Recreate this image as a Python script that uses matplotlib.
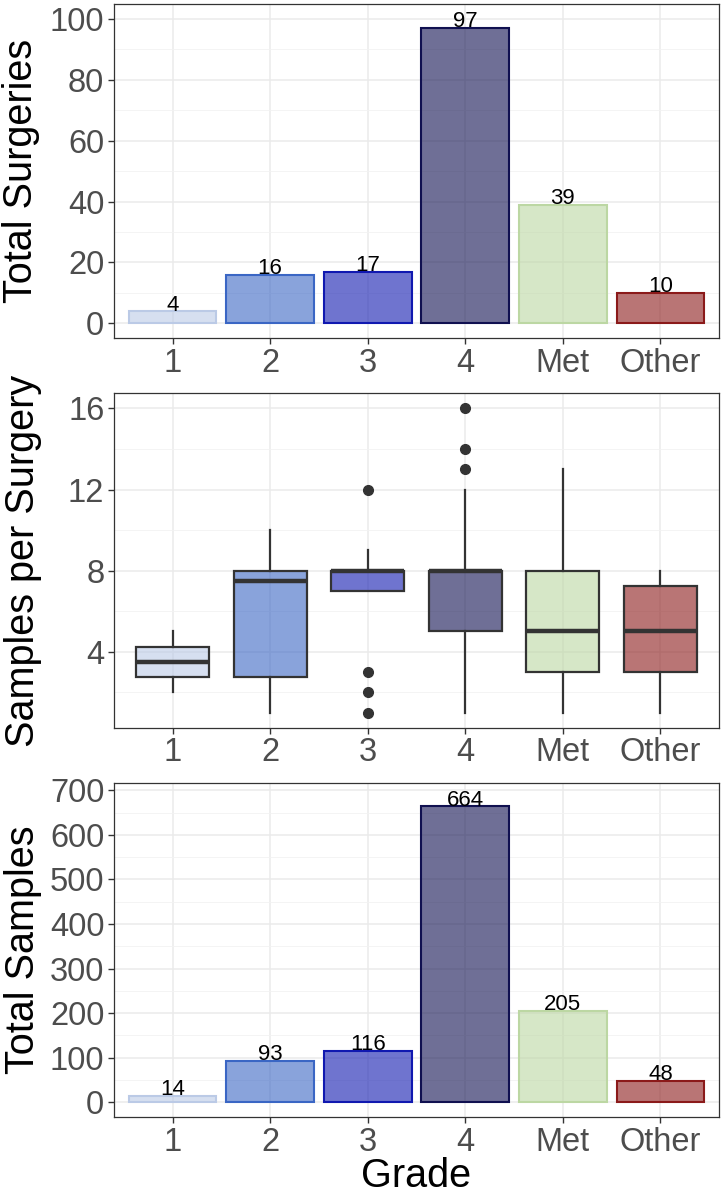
import matplotlib
matplotlib.use("Agg")
import matplotlib.pyplot as plt
from matplotlib.ticker import MultipleLocator

plt.rcParams['font.family'] = ['Liberation Sans', 'DejaVu Sans']

# ---------------- data ----------------
grades = ["1", "2", "3", "4", "Met", "Other"]
total_surgeries = [4, 16, 17, 97, 39, 10]
total_samples = [14, 93, 116, 664, 205, 48]

# boxplot stats (samples per surgery)
box_whislo = [2, 1, 7, 1, 1, 1]
box_q1 = [2.75, 2.75, 7, 5, 3, 3]
box_med = [3.5, 7.5, 8, 8, 5, 5]
box_q3 = [4.25, 8, 8, 8, 8, 7.25]
box_whishi = [5, 10, 9, 12, 13, 8]
box_fliers = [[], [], [12, 3, 2, 1], [13, 14, 16], [], []]

base_colors = ["#bbcae6", "#3a66c4", "#1018b0", "#101050", "#bcd7a3", "#8b1a1a"]
ALPHA = 0.6

W, H = 724, 1199
fig = plt.figure(figsize=(W / 100, H / 100), dpi=100)

def ax_rect(left, top, right, bottom):
    return [left / W, 1 - bottom / H, (right - left) / W, (bottom - top) / H]

ax1 = fig.add_axes(ax_rect(114, 4, 719, 338))
ax2 = fig.add_axes(ax_rect(114, 393.3, 719, 727.7))
ax3 = fig.add_axes(ax_rect(114, 782.7, 719, 1117.3))

pos = list(range(1, len(grades) + 1))

def style(ax, ylim, major, minor):
    ax.set_xlim(0.4, 6.6)
    ax.set_ylim(*ylim)
    ax.set_axisbelow(True)
    ax.yaxis.set_major_locator(MultipleLocator(major))
    ax.yaxis.set_minor_locator(MultipleLocator(minor))
    ax.set_xticks(pos)
    ax.set_xticklabels(grades)
    ax.grid(which='major', color='#ebebeb', linewidth=1.1)
    ax.grid(which='minor', axis='y', color='#f2f2f2', linewidth=0.6)
    for s in ax.spines.values():
        s.set_color('#333333')
        s.set_linewidth(0.9)
    ax.tick_params(axis='both', which='major', labelsize=23.5, labelcolor='#4d4d4d',
                   color='#333333', length=4, width=1, pad=3)
    ax.tick_params(axis='y', which='minor', length=0)

def bars(ax, vals):
    ax.bar(pos, vals, width=0.9, color=base_colors, alpha=ALPHA, edgecolor='none')
    ax.bar(pos, vals, width=0.9, color='none', edgecolor=base_colors, linewidth=1.5)
    for x, v in zip(pos, vals):
        ax.annotate(str(v), (x, v), xytext=(0, 0.5), textcoords='offset points',
                    ha='center', va='baseline', fontsize=16, color='black')

# panel 1
style(ax1, (-4.8, 104.9), 20, 10)
bars(ax1, total_surgeries)

# panel 2
style(ax2, (0.25, 16.75), 4, 2)
stats = []
for i in range(len(grades)):
    stats.append(dict(whislo=box_whislo[i], q1=box_q1[i], med=box_med[i],
                      q3=box_q3[i], whishi=box_whishi[i], fliers=box_fliers[i]))
bp = ax2.bxp(stats, positions=pos, widths=0.75, patch_artist=True, showcaps=False,
             boxprops=dict(edgecolor='#333333', linewidth=1.6),
             whiskerprops=dict(color='#333333', linewidth=1.6),
             medianprops=dict(color='#333333', linewidth=3.2, solid_capstyle='butt'),
             flierprops=dict(marker='o', markerfacecolor='#333333', markeredgecolor='#333333',
                             markersize=7, linestyle='none'))
for patch, c in zip(bp['boxes'], base_colors):
    r, g, b = matplotlib.colors.to_rgb(c)
    patch.set_facecolor((r, g, b, ALPHA))
ax2.set_xticks(pos)
ax2.set_xticklabels(grades)
ax2.set_xlim(0.4, 6.6)

# panel 3
style(ax3, (-33.6, 717), 100, 50)
bars(ax3, total_samples)

# axis titles
fig.text(21 / W, 1 - 171 / H, "Total Surgeries", rotation=90, ha='center', va='center', fontsize=28.5)
fig.text(23 / W, 1 - 560.5 / H, "Samples per Surgery", rotation=90, ha='center', va='center', fontsize=28.5)
fig.text(23 / W, 1 - 950 / H, "Total Samples", rotation=90, ha='center', va='center', fontsize=28.5)
fig.text((114 + 719) / 2 / W, 1 - 1176 / H, "Grade", ha='center', va='center', fontsize=28.5)

fig.savefig("out.png", dpi=100)
